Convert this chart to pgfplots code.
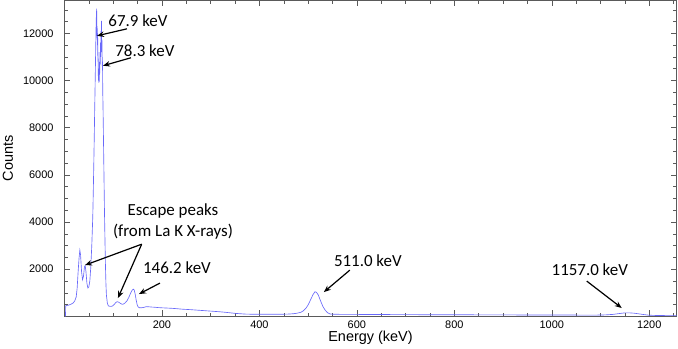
\documentclass[border=0pt]{standalone}
\usepackage{fontspec}
\setmainfont{Liberation Sans}
\newfontfamily\annfont{Carlito}
\usepackage{pgfplots}
\pgfplotsset{compat=1.18}
\usetikzlibrary{arrows.meta}

\definecolor{spec}{RGB}{105,105,250}
\definecolor{frame}{RGB}{90,90,90}

\begin{document}
\begin{tikzpicture}
\begin{axis}[
    name=ax, at={(0,0)}, anchor=south west,
    scale only axis, width=612bp, height=316bp,
    xmin=0, xmax=1256, ymin=0, ymax=13400,
    xtick={200,400,...,1200}, ytick={2000,4000,...,12000},
    minor xtick={50,100,...,1250}, minor ytick={500,1000,...,13000},
    tick align=inside,
    major tick length=6bp, minor tick length=3.5bp,
    axis line style={frame},
    every tick/.style={frame},
    scaled y ticks=false,
    /pgf/number format/1000 sep={},
    /pgf/number format/assume math mode=true,
    tick label style={font=\fontsize{11}{13}\selectfont},
    xticklabel style={yshift=-1.5bp},
    yticklabel style={xshift=-7.5bp},
    xlabel={Energy (keV)}, ylabel={Counts},
    label style={font=\fontsize{14.5}{17}\selectfont},
    x label style={at={(axis description cs:0.5,-0.069)}, anchor=center},
    y label style={at={(axis description cs:-0.0923,0.5)}, anchor=center},
]
\addplot[spec, line width=0.65bp] coordinates {
(2,0) (2.5,450) (8,470) (14,520) (18,570) (21,650) (24,820) (26,1200)
(28,1900) (30,2500) (31.5,2800) (33,2600) (35,1900) (37,1550) (39,1700)
(41,2100) (42.5,2150) (44,1900) (46,1400) (48,1200) (50,1250) (52,1500)
(54,2100) (56,3000) (58,4200) (59,5200) (60,6300) (61,7500) (62,8800)
(63,10000) (64,11300) (65,12500) (66,13050) (66.5,11800) (67,12300)
(67.5,11500) (68,12000) (68.5,10800) (69,11200) (69.5,10000) (70,10500)
(70.5,9900) (71,10300) (71.5,9950) (72,10800) (72.5,10300) (73,11200)
(73.5,10700) (74,11600) (74.5,11000) (75,12100) (75.5,11500) (76,12530)
(76.5,11200) (77,11700) (77.5,10600) (78,10800) (78.5,9500) (79,9000)
(80,7500) (81,6000) (82,4500) (83,3300) (84,2200) (85,1400) (86,900)
(88,550) (90,440) (94,420) (98,430) (102,500) (105,580) (108,620)
(111,600) (114,560) (117,520) (120,510) (124,560) (128,650) (132,800)
(135,950) (138,1080) (141,1150) (143,1120) (145,950) (147,700) (149,500)
(151,400) (154,360) (158,360) (163,380) (168,410) (175,400) (180,390)
(185,385) (192,370) (200,360) (210,350) (220,340) (232,320) (243,300)
(252,290) (260,280) (270,265) (280,250) (290,235) (300,220) (310,205)
(320,190) (330,170) (339,150) (350,125) (360,110) (370,95) (380,90)
(400,85) (420,85) (448,88) (460,95) (470,110) (477,130) (485,170)
(490,230) (495,330) (500,480) (505,700) (510,920) (514,1040) (517,1020)
(521,900) (525,680) (530,430) (535,260) (540,150) (545,100) (552,85)
(600,80) (650,75) (700,70) (750,68) (800,65) (850,62) (900,60) (950,57)
(1000,55) (1050,52) (1090,50) (1110,60) (1125,80) (1140,120) (1150,145)
(1160,145) (1170,130) (1180,100) (1190,70) (1200,45) (1215,35) (1235,30)
(1256,30)
};

\node[font=\annfont\fontsize{17}{20}\selectfont] at (axis cs:150.8,12528) {67.9 keV};
\node[font=\annfont\fontsize{17}{20}\selectfont] at (axis cs:165,11259) {78.3 keV};
\node[font=\annfont\fontsize{17}{21}\selectfont, align=center] at (axis cs:222.6,4008) {Escape peaks\\(from La K X-rays)};
\node[font=\annfont\fontsize{17}{20}\selectfont] at (axis cs:230.8,2042) {146.2 keV};
\node[font=\annfont\fontsize{17}{20}\selectfont] at (axis cs:622.6,2338) {511.0 keV};
\node[font=\annfont\fontsize{17}{20}\selectfont] at (axis cs:1078,1958) {1157.0 keV};

\begin{scope}[line width=1.2bp, -{Stealth[length=7bp,width=5.5bp]}]
\draw (axis cs:128.2,12190) -- (axis cs:66.7,11894);
\draw (axis cs:136.4,10963) -- (axis cs:79,10625);
\draw (axis cs:158.4,3057) -- (axis cs:42,2169);
\draw (axis cs:158.4,3057) -- (axis cs:109.7,774);
\draw (axis cs:195.9,1408) -- (axis cs:152.8,943);
\draw (axis cs:585.6,1958) -- (axis cs:532.3,1027);
\draw (axis cs:1071.8,1493) -- (axis cs:1143.6,351);
\end{scope}
\end{axis}
\pgfresetboundingbox
\path (-64.5bp,-32.7bp) rectangle (613.5bp,316.3bp);
\end{tikzpicture}
\end{document}
